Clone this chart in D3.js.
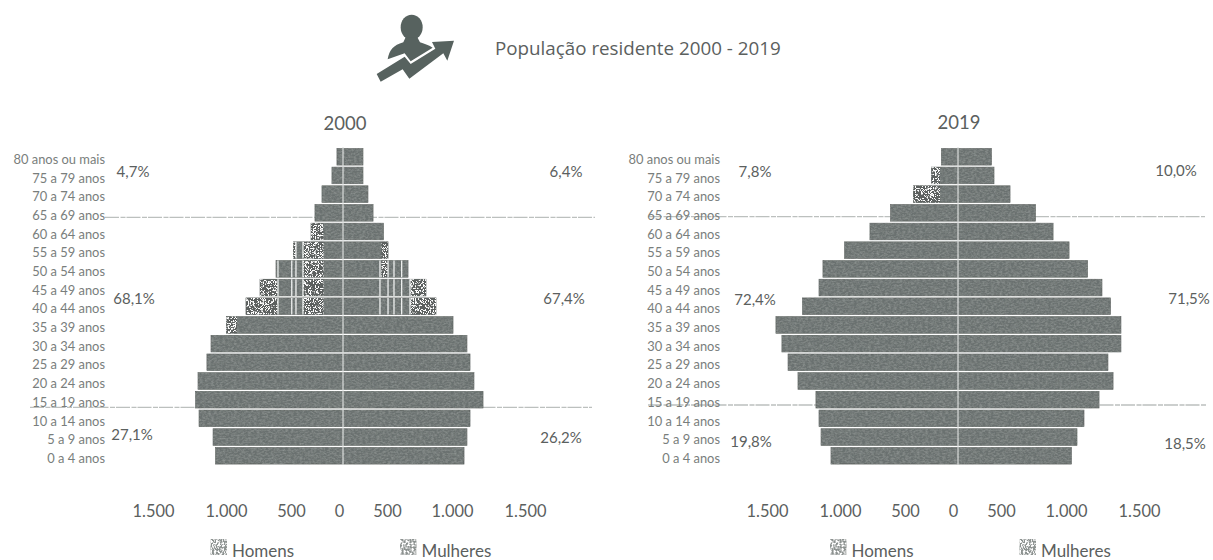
<!DOCTYPE html>
<html lang="pt">
<head>
<meta charset="utf-8">
<title>População residente 2000 - 2019</title>
<script src="https://cdn.jsdelivr.net/npm/d3@7/dist/d3.min.js"></script>
<style>
  html, body { margin: 0; padding: 0; background: #fff; }
  svg { display: block; font-family: Lato, "Open Sans", sans-serif; }
</style>
</head>
<body>
<svg id="chart" width="1213" height="560"></svg>
<script>
// Age groups, oldest first, as they run down the pyramid.
const ageGroups = ["80 anos ou mais","75 a 79 anos","70 a 74 anos","65 a 69 anos","60 a 64 anos",
  "55 a 59 anos","50 a 54 anos","45 a 49 anos","40 a 44 anos","35 a 39 anos","30 a 34 anos",
  "25 a 29 anos","20 a 24 anos","15 a 19 anos","10 a 14 anos","5 a 9 anos","0 a 4 anos"];

// Residents per age group.
const homens2000 = [63,115,219,292,333,512,646,769,877,1024,1130,1158,1219,1236,1212,1116,1099];
const mulheres2000 = [208,208,260,313,422,469,631,769,846,977,1075,1096,1123,1185,1096,1075,1055];
const homens2019 = [173,276,464,650,808,1003,1151,1178,1291,1473,1432,1390,1322,1199,1178,1164,1096];
const mulheres2019 = [349,375,531,727,862,985,1114,1212,1271,1342,1342,1253,1288,1192,1089,1041,1003];

// Speckled stretches of a bar: [age index, from value, to value].
const speckH2000 = [[4,204,333],[5,204,417],[5,490,512],[6,204,417],[7,204,417],[7,631,769],[8,204,417],[8,631,877],[9,946,1024]];
const speckM2000 = [[5,401,469],[6,401,469],[7,646,769],[8,646,846]];
const speckH2019 = [[1,187,276],[2,187,464]];
const speckM2019 = [];

// White hairlines crossing the speckled rows: [age index, value].
const gapsH2000 = [[5,490],[5,417],[6,631],[6,525],[6,490],[6,417],[7,631],[7,525],[7,490],[7,417],[8,631],[8,525],[8,490],[8,417]];
const gapsM2000 = [[6,385],[6,469],[6,523],[6,582],[7,385],[7,469],[7,523],[7,582],[7,646],[8,385],[8,469],[8,523],[8,582],[8,646]];

// Axis ticks and the distance from zero at which each one sits.
const tickValues = [-1500,-1000,-500,0,500,1000,1500];
const tickOffsets = [-186,-113,-48,0,48,113,186];

const panels = [
  { year: "2000", cx: 343, labelX: 105, titleX: 345, titleY: 130, tickNudge: -4,
    men: homens2000, women: mulheres2000, menSpeck: speckH2000, womenSpeck: speckM2000,
    menGaps: gapsH2000, womenGaps: gapsM2000,
    seps: [[217.3,105,595],[407.3,30,592]],
    pct: [["4,7%",133,177],["6,4%",566,177],["68,1%",134,304],["67,4%",564,304],["27,1%",132,440],["26,2%",561,443]],
    legend: [[210.5,"Homens"],[400,"Mulheres"]] },
  { year: "2019", cx: 958, labelX: 720, titleX: 959, titleY: 129, tickNudge: -5,
    men: homens2019, women: mulheres2019, menSpeck: speckH2019, womenSpeck: speckM2019,
    menGaps: [], womenGaps: [],
    seps: [[216.7,648,1205],[405,648,1207]],
    pct: [["7,8%",755,177],["10,0%",1176,176],["72,4%",755,305],["71,5%",1189,304],["19,8%",751,447],["18,5%",1185,449]],
    legend: [[830,"Homens"],[1019.5,"Mulheres"]] }
];

const svg = d3.select("#chart");
const textColor = "#5b605e";
const barColor = "#6b716f";

const defs = svg.append("defs");

// Faint mottling laid over the solid bars.
const grain = defs.append("filter").attr("id","grain").attr("filterUnits","userSpaceOnUse")
  .attr("x",0).attr("y",0).attr("width",1213).attr("height",560);
grain.append("feTurbulence").attr("type","fractalNoise").attr("baseFrequency","0.35 0.6")
  .attr("numOctaves",3).attr("seed",4).attr("result","n");
grain.append("feColorMatrix").attr("in","n").attr("type","matrix")
  .attr("values","0 0 0 0 0  0 0 0 0 0  0 0 0 0 0  1.6 0 0 0 -0.55").attr("result","a");
grain.append("feFlood").attr("flood-color","#8f9593").attr("result","c");
grain.append("feComposite").attr("in","c").attr("in2","a").attr("operator","in").attr("result","s");
grain.append("feComposite").attr("in","s").attr("in2","SourceAlpha").attr("operator","in").attr("result","t");
grain.append("feMerge").call(m => {
  m.append("feMergeNode").attr("in","SourceGraphic");
  m.append("feMergeNode").attr("in","t");
});

// Coarse black-and-white speckle for the lighter parts of some bars.
const speck = defs.append("filter").attr("id","speck").attr("filterUnits","userSpaceOnUse")
  .attr("x",0).attr("y",0).attr("width",1213).attr("height",560);
speck.append("feTurbulence").attr("type","turbulence").attr("baseFrequency","0.6")
  .attr("numOctaves",1).attr("seed",9).attr("result","n");
speck.append("feColorMatrix").attr("in","n").attr("type","matrix")
  .attr("values","0 0 0 0 1  0 0 0 0 1  0 0 0 0 1  9 0 0 0 -1.5").attr("result","a");
speck.append("feComposite").attr("in","a").attr("in2","SourceAlpha").attr("operator","in").attr("result","t");
speck.append("feMerge").call(m => {
  m.append("feMergeNode").attr("in","SourceGraphic");
  m.append("feMergeNode").attr("in","t");
});

// Softer speckle for the legend keys.
const keyTex = defs.append("filter").attr("id","keyTex").attr("filterUnits","userSpaceOnUse")
  .attr("x",0).attr("y",0).attr("width",1213).attr("height",560);
keyTex.append("feTurbulence").attr("type","fractalNoise").attr("baseFrequency","0.5")
  .attr("numOctaves",2).attr("seed",3).attr("result","n");
keyTex.append("feColorMatrix").attr("in","n").attr("type","matrix")
  .attr("values","0 0 0 0 1  0 0 0 0 1  0 0 0 0 1  5 0 0 0 -2.2").attr("result","a");
keyTex.append("feComposite").attr("in","a").attr("in2","SourceAlpha").attr("operator","in").attr("result","t");
keyTex.append("feMerge").call(m => {
  m.append("feMergeNode").attr("in","SourceGraphic");
  m.append("feMergeNode").attr("in","t");
});

// Header pictogram: a figure with a rising arrow across it.
const icon = svg.append("g").attr("transform","translate(360,0) scale(0.3333)").attr("fill","#57625f");
icon.append("ellipse").attr("cx",155).attr("cy",82).attr("rx",33).attr("ry",38);
icon.append("path").attr("d","M83,178 C88,150 100,136 130,127 L137,112 L172,112 L180,127 C195,132 208,136 218,143 L152,184 L134,160 Z");
icon.append("path").attr("d","M50,222 L134,170 L152,192 L226,146 L216,126 L282,122 L262,182 L250,160 L148,236 L128,208 L62,245 Z");

svg.append("text").attr("x",495).attr("y",55).attr("font-family","'Open Sans', sans-serif")
  .attr("font-size",18.8).attr("fill",textColor).text("População residente 2000 - 2019");

const band = d3.scaleBand().domain(ageGroups).range([147.5,465]).paddingInner(0.11).paddingOuter(0.05);

panels.forEach(p => {
  const g = svg.append("g");
  const x = d3.scaleLinear().domain(tickValues).range(tickOffsets.map(o => p.cx + o));

  // Reference lines splitting the age bands, running behind the bars.
  g.selectAll(".sep").data(p.seps).join("line").attr("class","sep")
    .attr("x1",d => d[1]).attr("x2",d => d[2]).attr("y1",d => d[0]).attr("y2",d => d[0])
    .attr("stroke","#bcc0be").attr("stroke-width",1.3).attr("stroke-dasharray","14 1.5 5 1");

  const rows = ageGroups.map((a,i) => ({a, men:p.men[i], women:p.women[i]}));

  // Bars grow outwards from zero; men to the left, women to the right.
  g.selectAll(".men").data(rows).join("rect").attr("class","men")
    .attr("x",d => x(-d.men)).attr("width",d => p.cx - x(-d.men))
    .attr("y",d => band(d.a)).attr("height",band.bandwidth())
    .attr("fill",barColor).attr("stroke","#555a58").attr("stroke-width",0.6).attr("filter","url(#grain)");
  g.selectAll(".women").data(rows).join("rect").attr("class","women")
    .attr("x",p.cx).attr("width",d => x(d.women) - p.cx)
    .attr("y",d => band(d.a)).attr("height",band.bandwidth())
    .attr("fill",barColor).attr("stroke","#555a58").attr("stroke-width",0.6).attr("filter","url(#grain)");

  // Speckled stretches on top of the bars.
  const speckRect = (sel, sign) => sel
    .attr("x",d => Math.min(x(sign*d[1]), x(sign*d[2])))
    .attr("width",d => Math.abs(x(sign*d[2]) - x(sign*d[1])))
    .attr("y",d => band(ageGroups[d[0]])).attr("height",band.bandwidth())
    .attr("fill","#5b615f").attr("filter","url(#speck)");
  speckRect(g.selectAll(".menSpeck").data(p.menSpeck).join("rect").attr("class","menSpeck"), -1);
  speckRect(g.selectAll(".womenSpeck").data(p.womenSpeck).join("rect").attr("class","womenSpeck"), 1);

  // White hairlines through the speckled rows.
  const gapLine = (sel, sign) => sel
    .attr("x1",d => x(sign*d[1])).attr("x2",d => x(sign*d[1]))
    .attr("y1",d => band(ageGroups[d[0]])).attr("y2",d => band(ageGroups[d[0]]) + band.bandwidth())
    .attr("stroke","#eef0ef").attr("stroke-width",1.3);
  gapLine(g.selectAll(".menGap").data(p.menGaps).join("line").attr("class","menGap"), -1);
  gapLine(g.selectAll(".womenGap").data(p.womenGaps).join("line").attr("class","womenGap"), 1);

  // White centre line on the zero of the axis.
  g.append("line").attr("x1",p.cx).attr("x2",p.cx).attr("y1",147).attr("y2",465)
    .attr("stroke","#dfe2e1").attr("stroke-width",1.2);

  // Age labels.
  const yAxis = g.append("g").attr("transform",`translate(${p.labelX},3)`)
    .call(d3.axisLeft(band).tickSize(0).tickPadding(0));
  yAxis.select(".domain").remove();
  yAxis.selectAll("text").attr("font-family","Lato, sans-serif").attr("font-size",12.9).attr("fill","#797e7c");

  // Population axis, labels only, in Portuguese number format.
  const xAxis = g.append("g").attr("transform",`translate(${p.tickNudge},505)`)
    .call(d3.axisBottom(x).tickValues(tickValues).tickSize(0).tickPadding(0)
      .tickFormat(v => d3.format(",")(Math.abs(v)).replace(",",".")));
  xAxis.select(".domain").remove();
  xAxis.selectAll("text").attr("font-family","Lato, sans-serif").attr("font-size",16.4).attr("fill",textColor);

  g.append("text").attr("x",p.titleX).attr("y",p.titleY).attr("text-anchor","middle")
    .attr("font-size",18.5).attr("fill",textColor).text(p.year);

  g.selectAll(".pct").data(p.pct).join("text").attr("class","pct")
    .attr("x",d => d[1]).attr("y",d => d[2]).attr("text-anchor","middle")
    .attr("font-size",15).attr("fill",textColor).text(d => d[0]);

  // Legend keys and names.
  const lg = g.selectAll(".lg").data(p.legend).join("g").attr("class","lg")
    .attr("transform",d => `translate(${d[0]},539)`);
  lg.append("rect").attr("width",16.5).attr("height",16).attr("fill","#8d9391").attr("filter","url(#keyTex)");
  lg.append("text").attr("x",21.5).attr("y",17.5).attr("font-size",17).attr("fill",textColor).text(d => d[1]);
});
</script>
</body>
</html>
